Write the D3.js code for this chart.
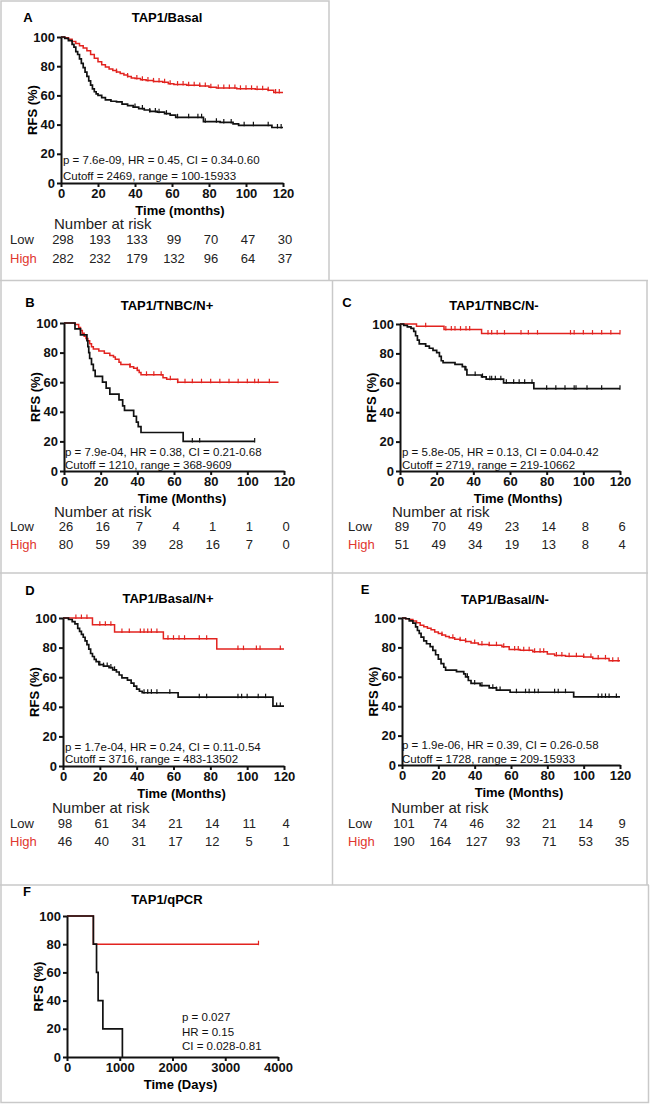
<!DOCTYPE html>
<html>
<head>
<meta charset="utf-8">
<script src="https://cdn.jsdelivr.net/npm/d3@7"></script>
<style>
  body { margin: 0; background: #fff; }
  svg text { font-family: "Liberation Sans", Arial, Helvetica, sans-serif; }
</style>
</head>
<body>
<div id="fig"></div>
<script>
// ---- data ----
const monthTicks = [0, 20, 40, 60, 80, 100, 120];
const dayTicks = [0, 1000, 2000, 3000, 4000];
const rfsTicks = [0, 20, 40, 60, 80, 100];
const riskTimes = [0, 20, 40, 60, 80, 100, 120];

// KM steps: [time, RFS %] — each point starts a new level
const aHigh = [[0,100],[2,99.5],[4,98.5],[6,97],[8,95.5],[10,94],[12,92.5],[14,90.5],[16,88],[18,85.5],[20,83],[22,81],[24,79.5],[26,78],[28,77],[30,76],[32,75],[34,74],[36,73],[38,72],[40,71.5],[43,70.8],[46,70.2],[50,69.6],[55,69],[58,68],[61,67.4],[68,67],[75,66.5],[80,65.5],[84,65],[95,64.5],[105,64.2],[112,63.5],[115,62],[120,62]];
const aLow = [[0,100],[2,99],[4,97.5],[6,95],[7,93],[8,90],[9,88],[10,85],[11,82],[12,79],[13,76],[14,73],[15,70],[16,67],[17,64.5],[18,62.5],[19,61],[20,60],[22,58.5],[24,57],[27,56],[30,55.5],[33,54],[36,53],[39,52],[42,51],[45,50],[48,49],[52,48.5],[56,47.5],[59,46.5],[62,45],[70,45],[77,42],[86,41.5],[93,40.5],[96,39.5],[114,38],[120,38]];
const aHighCens = [30,36,41,44,47,50,53,56,59,63,66,69,72,75,78,81,85,88,91,94,97,100,103,106,109,112,116,118];
const aLowCens = [40,44,48,51,53,57,63,69,74,76,78,84,88,92,99,104,112,117,119];

const bHigh = [[0,100],[6,99],[8,97],[9,95],[10,93],[11,91],[12,89.5],[13,88],[14,86],[15,84],[16,82.5],[19,81],[22,79.5],[25,78],[27,77],[28,75.5],[30,73.5],[31,72],[36,70.5],[38,69.5],[40,68],[41,66.5],[42,65],[54,63],[56,62],[62,60],[117,60]];
const bLow = [[0,100],[6,96],[9,92],[12.5,88],[13,84],[13.5,80],[14,76],[15,72],[16,68],[17,64],[21,60],[23,56],[25,52],[30,48],[32,44],[33,41],[38,37],[39.5,33],[40.5,30],[42,26],[65,20],[104,20]];
const bHighCens = [36,40,45,49,53,58,62,66,70,75,80,85,90,95,100,104,106,112];
const bLowCens = [70,74,104];

const cHigh = [[0,100],[9,98.5],[24,96.2],[44.5,93.5],[120,93.5]];
const cLow = [[0,100],[2,99],[4,98],[6,97],[7.5,95],[8.5,92],[9.5,89],[10.5,86.5],[14,85],[16,83.5],[18,82],[20,80.5],[21.5,78],[22.5,75],[23.5,73.7],[30,72.5],[34,71],[35.5,69],[36.5,65.3],[44.5,64],[47,62.5],[56.5,60],[73,56],[120,56]];
const cHighCens = [14,25,28,30,33,36,38,48,50,53,57,66,70,75,93,95,100,105,110,115,120];
const cLowCens = [36,41,45,49,50,52,55,58,62,65,68,72,80,85,90,95,96,102,110,120];

const dHigh = [[0,100],[16,95.5],[28,90.5],[54.5,86],[83.5,79],[120,79]];
const dLow = [[0,100],[3,99],[5,97.5],[6.5,96],[8,93],[9,91],[10,89],[11,87],[12,84.5],[13,82],[14,79],[15,76],[16,74],[17,72],[18,70.5],[19.5,68.5],[22,67.5],[25,66.5],[27,65],[29,63.5],[30.5,61.5],[32,59.5],[35,58],[37,56],[38.5,54],[40,52],[41.5,50.5],[43,49.5],[62.5,46.5],[114,40.5],[120,40.5]];
const dHighCens = [7,10,13,20,23,26,32,36,42,44,46,48,51,57,60,63,66,74,78,95,98,105,107,118];
const dLowCens = [20,22,24,26,28,44,46,48,51,58,74,78,95,97,100,106,110,116,118];

const eHigh = [[0,100],[2,99.5],[4,99],[6,98],[8,96.8],[10,95],[12,94],[14,93],[16,92],[18,90.5],[20,89.5],[22,88.5],[24,87.5],[26,86.5],[29,85.5],[32,84.8],[35,84],[38,83],[42,82],[48,81.5],[55,80.5],[59,78.5],[65,78],[72,77],[80,75.5],[84,74.5],[90,74],[100,73.5],[105,72.5],[114,71],[120,71]];
const eLow = [[0,100],[2,99.5],[4,98],[6,96.5],[7.5,94],[8.5,91.5],[9.5,89.5],[10.5,87],[12,84.5],[13.5,82.5],[15.5,80.5],[17,78],[18.5,75],[20,72],[21.5,69],[23,66.5],[24,64.5],[30,63.5],[34,62],[35,60],[36.5,57.5],[38,55.5],[43,54],[48,52.5],[52,51],[59.5,49.5],[94.5,46.3],[120,46.3]];
const eHighCens = [22,28,32,35,40,44,48,52,56,62,64,67,70,73,76,78,85,88,92,96,100,104,108,112,116,119];
const eLowCens = [36,40,44,50,52,54,63,68,70,73,75,84,86,90,108,110,112,114,118];

const fHigh = [[0,100],[500,80],[3630,80]];
const fLow = [[0,100],[500,80],[560,60],[590,40],[680,20],[1050,0]];
const fHighCens = [3630];
const fLowCens = [];

const aRiskLow = [298,193,133,99,70,47,30], aRiskHigh = [282,232,179,132,96,64,37];
const bRiskLow = [26,16,7,4,1,1,0],         bRiskHigh = [80,59,39,28,16,7,0];
const cRiskLow = [89,70,49,23,14,8,6],      cRiskHigh = [51,49,34,19,13,8,4];
const dRiskLow = [98,61,34,21,14,11,4],     dRiskHigh = [46,40,31,17,12,5,1];
const eRiskLow = [101,74,46,32,21,14,9],    eRiskHigh = [190,164,127,93,71,53,35];

const aStats = ["p = 7.6e-09, HR = 0.45, CI = 0.34-0.60", "Cutoff = 2469, range = 100-15933"];
const bStats = ["p = 7.9e-04, HR = 0.38, CI = 0.21-0.68", "Cutoff = 1210, range = 368-9609"];
const cStats = ["p = 5.8e-05, HR = 0.13, CI = 0.04-0.42", "Cutoff = 2719, range = 219-10662"];
const dStats = ["p = 1.7e-04, HR = 0.24, CI = 0.11-0.54", "Cutoff = 3716, range = 483-13502"];
const eStats = ["p = 1.9e-06, HR = 0.39, CI = 0.26-0.58", "Cutoff = 1728, range = 209-15933"];
const fStats = ["p = 0.027", "HR = 0.15", "CI = 0.028-0.81"];

// ---- layout ----
const RED = "#e2231f", BLACK = "#111", BORDER = "#c9c9c9";
const width = 650, height = 1104;

const panels = [
  { letter: "A", title: "TAP1/Basal", xTitle: "Time (months)", high: aHigh, low: aLow, highCens: aHighCens, lowCens: aLowCens,
    riskLow: aRiskLow, riskHigh: aRiskHigh, stats: aStats, xDomain: [0, 120], xTicks: monthTicks,
    x0: 61, x1: 283, yTop: 37, yBot: 183, letterPos: [28, 17], titlePos: [167, 17], statsX: 63, statsY: [160, 176],
    risk: { labelX: 10, headX: 54, y: [223, 239, 258] } },
  { letter: "B", title: "TAP1/TNBC/N+", xTitle: "Time (Months)", high: bHigh, low: bLow, highCens: bHighCens, lowCens: bLowCens,
    riskLow: bRiskLow, riskHigh: bRiskHigh, stats: bStats, xDomain: [0, 120], xTicks: monthTicks,
    x0: 64, x1: 284, yTop: 323, yBot: 471, letterPos: [30, 302], titlePos: [167, 305], statsX: 65, statsY: [452, 464.5],
    risk: { labelX: 10, headX: 54, y: [511, 526, 544] } },
  { letter: "C", title: "TAP1/TNBC/N-", xTitle: "Time (Months)", high: cHigh, low: cLow, highCens: cHighCens, lowCens: cLowCens,
    riskLow: cRiskLow, riskHigh: cRiskHigh, stats: cStats, xDomain: [0, 120], xTicks: monthTicks,
    x0: 400, x1: 620, yTop: 324, yBot: 471, letterPos: [347, 302], titlePos: [494, 305], statsX: 402, statsY: [452, 464.5],
    risk: { labelX: 348, headX: 392, y: [511, 526, 544] } },
  { letter: "D", title: "TAP1/Basal/N+", xTitle: "Time (Months)", high: dHigh, low: dLow, highCens: dHighCens, lowCens: dLowCens,
    riskLow: dRiskLow, riskHigh: dRiskHigh, stats: dStats, xDomain: [0, 120], xTicks: monthTicks,
    x0: 63, x1: 284, yTop: 618, yBot: 766, letterPos: [30, 590], titlePos: [168, 598], statsX: 65, statsY: [747, 759],
    risk: { labelX: 10, headX: 52, y: [807, 823, 841] } },
  { letter: "E", title: "TAP1/Basal/N-", xTitle: "Time (Months)", high: eHigh, low: eLow, highCens: eHighCens, lowCens: eLowCens,
    riskLow: eRiskLow, riskHigh: eRiskHigh, stats: eStats, xDomain: [0, 120], xTicks: monthTicks,
    x0: 402, x1: 620, yTop: 618, yBot: 765, letterPos: [365, 589], titlePos: [505, 599], statsX: 402, statsY: [745, 759],
    risk: { labelX: 348, headX: 391, y: [807, 823, 841] } },
  { letter: "F", title: "TAP1/qPCR", xTitle: "Time (Days)", high: fHigh, low: fLow, highCens: fHighCens, lowCens: fLowCens,
    riskLow: null, riskHigh: null, stats: fStats, xDomain: [0, 4000], xTicks: dayTicks,
    x0: 67, x1: 278, yTop: 916, yBot: 1057, letterPos: [27, 891], titlePos: [167, 899], statsX: 182, statsY: [1017, 1031.5, 1046] }
];

const svg = d3.select("#fig").append("svg")
  .attr("width", width)
  .attr("height", height)
  .attr("viewBox", `0 0 ${width} ${height}`);

// panel frames
const frames = svg.append("g").attr("stroke", BORDER).attr("stroke-width", 1.5).attr("fill", "none");
frames.append("path").attr("d", "M1,280 V1 H329 V280");
frames.append("path").attr("d", "M0,280.5 H648");
frames.append("path").attr("d", "M1,280 V1102.5 H648.5 V885");
frames.append("path").attr("d", "M647,280 V885");
frames.append("path").attr("d", "M332.5,280 V885");
frames.append("path").attr("d", "M0,573 H648");
frames.append("path").attr("d", "M0,885 H649");

function survAt(curve, t) {
  let s = curve[0][1];
  for (const [ct, cs] of curve) { if (ct <= t) s = cs; else break; }
  return s;
}

function drawPanel(p) {
  const x = d3.scaleLinear().domain(p.xDomain).range([p.x0, p.x1]);
  const y = d3.scaleLinear().domain([0, 100]).range([p.yBot, p.yTop]);
  const g = svg.append("g");

  g.append("text").attr("x", p.letterPos[0]).attr("y", p.letterPos[1])
    .attr("text-anchor", "middle").attr("dominant-baseline", "central")
    .attr("font-size", 13).attr("font-weight", "bold").text(p.letter);
  g.append("text").attr("x", p.titlePos[0]).attr("y", p.titlePos[1])
    .attr("text-anchor", "middle").attr("dominant-baseline", "central")
    .attr("font-size", 13).attr("font-weight", "bold").text(p.title);

  // curves
  const line = d3.line().x(d => x(d[0])).y(d => y(d[1])).curve(d3.curveStepAfter);
  [[p.high, p.highCens, RED, 1.5], [p.low, p.lowCens, BLACK, 1.7]].forEach(([curve, cens, col, sw]) => {
    g.append("path").datum(curve).attr("d", line)
      .attr("fill", "none").attr("stroke", col).attr("stroke-width", sw);
    g.append("g").selectAll("line").data(cens).join("line")
      .attr("x1", d => x(d)).attr("x2", d => x(d))
      .attr("y1", d => y(survAt(curve, d)) - 3.5)
      .attr("y2", d => y(survAt(curve, d)) + 1)
      .attr("stroke", col).attr("stroke-width", 1.2);
  });

  // axes
  const xAxis = g.append("g").attr("transform", `translate(0,${p.yBot})`)
    .call(d3.axisBottom(x).tickValues(p.xTicks).tickFormat(d3.format("d"))
      .tickSize(4).tickSizeOuter(0).tickPadding(2));
  const yAxis = g.append("g").attr("transform", `translate(${p.x0},0)`)
    .call(d3.axisLeft(y).tickValues(rfsTicks).tickSize(4).tickSizeOuter(0).tickPadding(2));
  [xAxis, yAxis].forEach(ax => {
    ax.select(".domain").attr("stroke", BLACK).attr("stroke-width", 2);
    ax.selectAll(".tick line").attr("stroke", BLACK).attr("stroke-width", 2);
    ax.selectAll(".tick text").attr("font-size", 13).attr("font-weight", "bold")
      .attr("fill", BLACK).attr("font-family", '"Liberation Sans", Arial, sans-serif');
  });

  g.append("text").attr("x", (p.x0 + p.x1) / 2 + 8).attr("y", p.yBot + 27)
    .attr("text-anchor", "middle").attr("dominant-baseline", "central")
    .attr("font-size", 13).attr("font-weight", "bold").text(p.xTitle);
  g.append("text")
    .attr("transform", `translate(${p.x0 - 29},${(p.yTop + p.yBot) / 2}) rotate(-90)`)
    .attr("text-anchor", "middle").attr("dominant-baseline", "central")
    .attr("font-size", 13).attr("font-weight", "bold").text("RFS (%)");

  // statistics
  g.append("g").selectAll("text").data(p.stats).join("text")
    .attr("x", p.statsX).attr("y", (d, i) => p.statsY[i])
    .attr("dominant-baseline", "central").attr("font-size", 11.5).attr("fill", "#111")
    .text(d => d);

  // number at risk
  if (p.riskLow) {
    const r = p.risk;
    g.append("text").attr("x", r.headX).attr("y", r.y[0]).attr("dominant-baseline", "central")
      .attr("font-size", 15).attr("fill", "#222").text("Number at risk");
    [["Low", p.riskLow, "#222", r.y[1]], ["High", p.riskHigh, "#e0362f", r.y[2]]].forEach(([lab, vals, col, yy]) => {
      g.append("text").attr("x", r.labelX).attr("y", yy).attr("dominant-baseline", "central")
        .attr("font-size", 13).attr("fill", col).text(lab);
      g.append("g").selectAll("text").data(vals).join("text")
        .attr("x", (d, i) => x(riskTimes[i]) + 2).attr("y", yy)
        .attr("text-anchor", "middle").attr("dominant-baseline", "central")
        .attr("font-size", 13).attr("fill", "#222").text(d => d);
    });
  }
}

panels.forEach(drawPanel);
</script>
</body>
</html>
